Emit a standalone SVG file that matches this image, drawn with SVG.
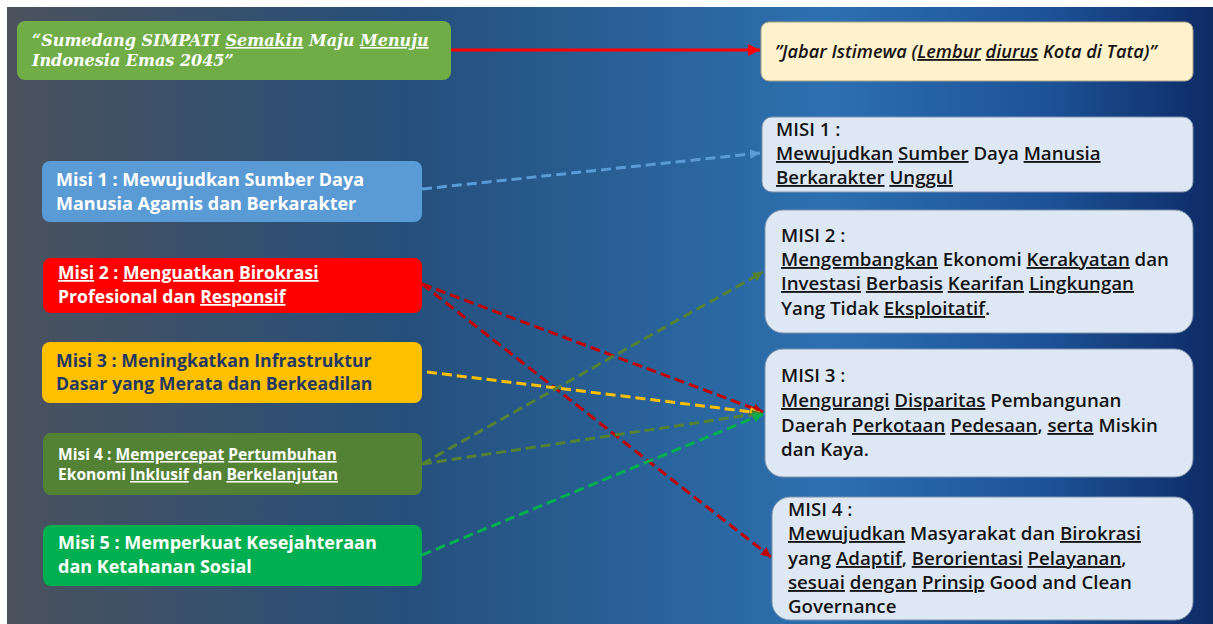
<svg xmlns="http://www.w3.org/2000/svg" width="1213" height="624" viewBox="0 0 1213 624">
<defs>
<linearGradient id="bg" x1="0" y1="0" x2="1" y2="0">
<stop offset="0" stop-color="#4b525d"/>
<stop offset="0.33" stop-color="#254f7b"/>
<stop offset="0.68" stop-color="#2d70b0"/>
<stop offset="0.86" stop-color="#1d5398"/>
<stop offset="1" stop-color="#0e2b66"/>
</linearGradient>
<marker id="mRed" markerUnits="userSpaceOnUse" markerWidth="14" markerHeight="12" refX="12" refY="6" orient="auto"><path d="M0,0 L12,6 L0,12 Z" fill="#ff0000"/></marker>
<marker id="mBlue" markerUnits="userSpaceOnUse" markerWidth="12" markerHeight="10" refX="10" refY="5" orient="auto"><path d="M0,0 L10,5 L0,10 Z" fill="#5b9bd5"/></marker>
<marker id="mDRed" markerUnits="userSpaceOnUse" markerWidth="12" markerHeight="10" refX="10" refY="5" orient="auto"><path d="M0,0 L10,5 L0,10 Z" fill="#c00000"/></marker>
<marker id="mOlive" markerUnits="userSpaceOnUse" markerWidth="12" markerHeight="10" refX="10" refY="5" orient="auto"><path d="M0,0 L10,5 L0,10 Z" fill="#548235"/></marker>
<marker id="mGreen" markerUnits="userSpaceOnUse" markerWidth="12" markerHeight="10" refX="10" refY="5" orient="auto"><path d="M0,0 L10,5 L0,10 Z" fill="#00b050"/></marker>
<marker id="mYel" markerUnits="userSpaceOnUse" markerWidth="12" markerHeight="10" refX="10" refY="5" orient="auto"><path d="M0,0 L10,5 L0,10 Z" fill="#ffc000"/></marker>
</defs>
<style>
.lt{font-family:"Open Sans","Liberation Sans",sans-serif;font-weight:700;font-size:18px;fill:#ffffff}
.rt{font-family:"Open Sans","Liberation Sans",sans-serif;font-weight:600;font-size:18.7px;fill:#141414}
.rb{fill:#dde8f4;stroke:#7f93ad;stroke-width:1}
.sp{text-decoration:underline}
.c{fill:none;stroke-width:3;stroke-dasharray:10 5}
</style>
<rect x="7" y="7" width="1206" height="617" fill="url(#bg)"/>

<g id="connectors">
<line x1="451" y1="50" x2="760" y2="50" stroke="#ff0000" stroke-width="3" marker-end="url(#mRed)"/>
<line class="c" x1="422" y1="189" x2="760" y2="153" stroke="#5b9bd5" marker-end="url(#mBlue)"/>
<line class="c" x1="422" y1="284" x2="763" y2="412" stroke="#c00000" marker-end="url(#mDRed)"/>
<line class="c" x1="422" y1="284" x2="771" y2="557" stroke="#c00000" marker-end="url(#mDRed)"/>
<line class="c" x1="427" y1="372" x2="760" y2="413" stroke="#ffc000" marker-end="url(#mYel)"/>
<line class="c" x1="422" y1="464" x2="763" y2="272" stroke="#548235" marker-end="url(#mOlive)"/>
<line class="c" x1="422" y1="464" x2="762" y2="413" stroke="#548235" marker-end="url(#mOlive)"/>
<line class="c" x1="422" y1="555" x2="763" y2="414" stroke="#00b050" marker-end="url(#mGreen)"/>
</g>

<g id="visi-sumedang">
<rect x="17" y="21" width="434" height="59" rx="8" fill="#70ad47"/>
<text font-family="DejaVu Serif,serif" font-weight="700" font-style="italic" font-size="16" fill="#ffffff"><tspan x="32" y="46">“Sumedang SIMPATI <tspan class="sp">Semakin</tspan> Maju <tspan class="sp">Menuju</tspan></tspan><tspan x="32" y="66">Indonesia Emas 2045”</tspan></text>
</g>

<g id="visi-jabar">
<rect x="761" y="22" width="432" height="59" rx="8" fill="#fff2cc" stroke="#a79f86" stroke-width="1"/>
<text x="775" y="58" font-family="Open Sans,Liberation Sans,sans-serif" font-style="italic" font-weight="600" font-size="18.2" fill="#141414">”Jabar Istimewa (<tspan class="sp">Lembur</tspan> <tspan class="sp">diurus</tspan> Kota di Tata)”</text>
</g>

<g id="misi1-left">
<rect x="42" y="161" width="380" height="61" rx="8" fill="#5b9bd5"/>
<text class="lt"><tspan x="56" y="186">Misi 1 : Mewujudkan Sumber Daya</tspan><tspan x="56" y="210">Manusia Agamis dan Berkarakter</tspan></text>
</g>
<g id="misi2-left">
<rect x="43" y="258" width="379" height="55" rx="8" fill="#ff0000"/>
<text class="lt" style="font-size:17.6px"><tspan x="58" y="279"><tspan class="sp">Misi</tspan> 2 : <tspan class="sp">Menguatkan</tspan> <tspan class="sp">Birokrasi</tspan></tspan><tspan x="58" y="303">Profesional dan <tspan class="sp">Responsif</tspan></tspan></text>
</g>
<g id="misi3-left">
<rect x="42" y="342" width="380" height="61" rx="8" fill="#ffc000"/>
<text class="lt" style="fill:#1f3864;font-size:17.7px"><tspan x="56" y="367">Misi 3 : Meningkatkan Infrastruktur</tspan><tspan x="56" y="390">Dasar yang Merata dan Berkeadilan</tspan></text>
</g>
<g id="misi4-left">
<rect x="43" y="433" width="379" height="62" rx="8" fill="#548235"/>
<text class="lt" style="font-size:15.6px"><tspan x="58" y="460">Misi 4 : <tspan class="sp">Mempercepat</tspan> <tspan class="sp">Pertumbuhan</tspan></tspan><tspan x="58" y="480">Ekonomi <tspan class="sp">Inklusif</tspan> dan <tspan class="sp">Berkelanjutan</tspan></tspan></text>
</g>
<g id="misi5-left">
<rect x="43" y="525" width="379" height="61" rx="8" fill="#00b050"/>
<text class="lt"><tspan x="58" y="549">Misi 5 : Memperkuat Kesejahteraan</tspan><tspan x="58" y="573">dan Ketahanan Sosial</tspan></text>
</g>

<g id="misi1-right">
<rect class="rb" x="762" y="117" width="431" height="75" rx="10"/>
<text class="rt"><tspan x="776" y="136">MISI 1 :</tspan><tspan x="776" y="160"><tspan class="sp">Mewujudkan</tspan> <tspan class="sp">Sumber</tspan> Daya <tspan class="sp">Manusia</tspan></tspan><tspan x="776" y="184"><tspan class="sp">Berkarakter</tspan> <tspan class="sp">Unggul</tspan></tspan></text>
</g>
<g id="misi2-right">
<rect class="rb" x="765" y="210" width="428" height="123" rx="18"/>
<text class="rt"><tspan x="781" y="242">MISI 2 :</tspan><tspan x="781" y="266"><tspan class="sp">Mengembangkan</tspan> Ekonomi <tspan class="sp">Kerakyatan</tspan> dan</tspan><tspan x="781" y="290"><tspan class="sp">Investasi</tspan> <tspan class="sp">Berbasis</tspan> <tspan class="sp">Kearifan</tspan> <tspan class="sp">Lingkungan</tspan></tspan><tspan x="781" y="315">Yang Tidak <tspan class="sp">Eksploitatif</tspan>.</tspan></text>
</g>
<g id="misi3-right">
<rect class="rb" x="765" y="349" width="428" height="128" rx="18"/>
<text class="rt"><tspan x="781" y="382">MISI 3 :</tspan><tspan x="781" y="407"><tspan class="sp">Mengurangi</tspan> <tspan class="sp">Disparitas</tspan> Pembangunan</tspan><tspan x="781" y="432">Daerah <tspan class="sp">Perkotaan</tspan> <tspan class="sp">Pedesaan</tspan>, <tspan class="sp">serta</tspan> Miskin</tspan><tspan x="781" y="456">dan Kaya.</tspan></text>
</g>
<g id="misi4-right">
<rect class="rb" x="772" y="497" width="421" height="123" rx="18"/>
<text class="rt"><tspan x="788" y="516">MISI 4 :</tspan><tspan x="788" y="540"><tspan class="sp">Mewujudkan</tspan> Masyarakat dan <tspan class="sp">Birokrasi</tspan></tspan><tspan x="788" y="565">yang <tspan class="sp">Adaptif</tspan>, <tspan class="sp">Berorientasi</tspan> <tspan class="sp">Pelayanan</tspan>,</tspan><tspan x="788" y="589"><tspan class="sp">sesuai</tspan> <tspan class="sp">dengan</tspan> <tspan class="sp">Prinsip</tspan> Good and Clean</tspan><tspan x="788" y="613">Governance</tspan></text>
</g>
</svg>
